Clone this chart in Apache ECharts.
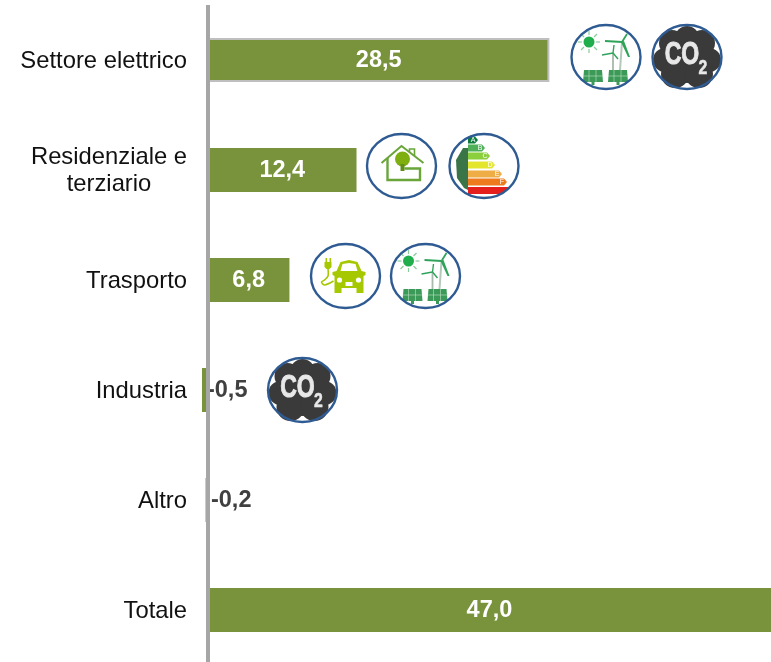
<!DOCTYPE html>
<html>
<head>
<meta charset="utf-8">
<title>Settori</title>
<style>
  html, body { margin: 0; padding: 0; background: #fff; overflow: hidden; }
  #chart { width: 771px; height: 670px; }
</style>
<script src="https://cdn.jsdelivr.net/npm/echarts@6/dist/echarts.min.js"></script>
</head>
<body>
<div id="chart"></div>
<script>
var categories = ['Settore elettrico', 'Residenziale e\nterziario', 'Trasporto', 'Industria', 'Altro', 'Totale'];
var values = [28.5, 12.4, 6.8, -0.5, -0.2, 47.0];

var GREEN = '#79933C';
var FONT = '"Liberation Sans", Arial, sans-serif';

function fmt(v) {
  return v.toFixed(1).replace('.', ',');
}

// icone: tutte disegnate attorno a (0,0), ellisse 35x32
function frame() {
  return { type: 'ellipse', shape: { cx: 0, cy: 0, rx: 34.5, ry: 32 }, style: { fill: 'none', stroke: '#2F5B93', lineWidth: 2.4 } };
}
function bg() {
  return { type: 'ellipse', shape: { cx: 0, cy: 0, rx: 34.5, ry: 32 }, style: { fill: '#fff' } };
}
function ln(points, color, width, smooth) {
  return { type: 'polyline', shape: { points: points, smooth: smooth || 0 }, style: { fill: 'none', stroke: color, lineWidth: width } };
}
function poly(points, color) {
  return { type: 'polygon', shape: { points: points }, style: { fill: color } };
}
function dot(x, y, r, color) {
  return { type: 'circle', shape: { cx: x, cy: y, r: r }, style: { fill: color } };
}
function rect(x, y, w, h, color) {
  return { type: 'rect', shape: { x: x, y: y, width: w, height: h }, style: { fill: color } };
}

function solarIcon() {
  var g = '#2FA35A';
  var c = [bg(), dot(-17, -15, 5.5, '#1FAE4B')];
  var rays = [[-28, -15, -24, -15], [-10, -15, -6, -15], [-17, -26, -17, -22], [-17, -8, -17, -4],
    [-25, -23, -22, -20], [-12, -10, -9, -7], [-9, -23, -12, -20], [-25, -7, -22, -10]];
  rays.forEach(function (r) { c.push(ln([[r[0], r[1]], [r[2], r[3]]], '#8CCB9C', 1.2)); });
  c.push(ln([[7, -4], [7, 13]], '#A8B8AC', 1.8));
  c.push(ln([[7, -4], [-4, -2]], g, 1.4), ln([[7, -4], [8, -12]], g, 1.4), ln([[7, -4], [12, 2]], g, 1.4));
  c.push(ln([[16, -15], [14, 13]], '#B5C9BA', 2));
  c.push(ln([[16, -15], [-1, -16]], g, 1.8), ln([[16, -15], [21, -23]], g, 1.8), poly([[15, -15], [18, -16], [24, 0], [22, 0]], g));
  [[-23, -3], [2, 22]].forEach(function (p) {
    c.push(poly([[p[0] + 1, 13], [p[1] - 1, 13], [p[1], 25], [p[0], 25]], '#3C9A58'));
    c.push(rect((p[0] + p[1]) / 2 - 1.5, 25, 3, 3, '#3C9A58'));
    c.push(ln([[p[0] + 6, 13], [p[0] + 6, 25]], '#BFE0C6', 0.6), ln([[p[0] + 13, 13], [p[0] + 13, 25]], '#BFE0C6', 0.6));
    c.push(ln([[p[0], 19], [p[1], 19]], '#BFE0C6', 0.6));
  });
  c.push(frame());
  return c;
}

function co2Icon() {
  var d = '#3A3A3A';
  var c = [bg()];
  [[0, 0, 26], [0, -19, 12], [-15, -14, 13], [15, -14, 13], [-22, 3, 12], [22, 3, 12], [-12, 17, 14], [12, 17, 14]].forEach(function (b) {
    c.push(dot(b[0], b[1], b[2], d));
  });
  c.push({ type: 'text', scaleX: 0.72, x: -5, y: -2, style: { text: 'CO', font: 'bold 32px ' + FONT, fill: '#E8E8E8', stroke: '#E8E8E8', lineWidth: 1, align: 'center', verticalAlign: 'middle' } });
  c.push({ type: 'text', scaleX: 0.75, x: 16, y: 11, style: { text: '2', font: 'bold 21px ' + FONT, fill: '#E8E8E8', stroke: '#E8E8E8', lineWidth: 0.6, align: 'center', verticalAlign: 'middle' } });
  c.push(frame());
  return c;
}

function houseIcon() {
  var g = '#6AA53A';
  return [
    bg(),
    ln([[-20, -3], [0, -20], [22, -3]], g, 2),
    ln([[8, -14], [8, -17], [13, -17], [13, -10]], g, 1.6),
    ln([[-14, -8], [-14, 14], [18.5, 14], [18.5, 2.5], [3, 2.5]], g, 2.4),
    dot(1, -7, 7.5, '#7FAE10'),
    rect(-1, -2, 4, 7, '#5E8F1A'),
    frame()
  ];
}

function energyIcon() {
  var c = [bg(), poly([[-21, -18], [-16, -18], [-16, 24], [-20, 22], [-27, 12], [-28, -6]], '#3A7548')];
  var rows = [
    [-26, -6, '#0B7A3B', 'A'], [-18, 1, '#4FB058', 'B'], [-10, 6, '#8CCF3C', 'C'],
    [-1, 11, '#E4E62E', 'D'], [8, 18, '#EFAE45', 'E'], [16, 23, '#EE7A1E', 'F']
  ];
  rows.forEach(function (r) {
    c.push(poly([[-16, r[0] - 3.5], [r[1] - 3, r[0] - 3.5], [r[1], r[0]], [r[1] - 3, r[0] + 3.5], [-16, r[0] + 3.5]], r[2]));
    c.push({ type: 'text', style: { text: r[3], x: r[1] - 5, y: r[0], font: '7px ' + FONT, fill: '#fff', align: 'center', verticalAlign: 'middle' } });
  });
  c.push(poly([[-16, 21], [26, 21], [23, 24], [17, 28], [-16, 28]], '#E5201C'));
  c.push(frame());
  return c;
}

function carIcon() {
  var g = '#A6C800';
  return [
    bg(),
    poly([[-9, -5], [-5, -14], [3.5, -16], [12, -14], [16, -5], [20, -4], [20, -1], [18, 0], [18, 17], [11, 17], [11, 12], [-4, 12], [-4, 17], [-11, 17], [-11, 0], [-13, -1], [-13, -4]], g),
    poly([[-5, -5], [-3, -12], [3.5, -13], [10, -12], [12, -5]], '#fff'),
    dot(-6, 4, 2.6, '#fff'),
    dot(13, 4, 2.6, '#fff'),
    rect(0, 6, 7, 4, '#fff'),
    rect(-20, -18, 1.6, 4, g),
    rect(-16, -18, 1.6, 4, g),
    poly([[-21, -14], [-14, -14], [-14, -9], [-16, -7], [-19, -7], [-21, -9]], g),
    ln([[-17.5, -7], [-17.5, 0], [-21, 4], [-24, 6], [-21, 9], [-12, 5]], g, 1.6, 0.3),
    frame()
  ];
}

// posizione delle icone accanto alle barre
var icons = [
  { x: 606, y: 57, fn: solarIcon },
  { x: 687, y: 57, fn: co2Icon },
  { x: 401.5, y: 166, fn: houseIcon },
  { x: 484, y: 166, fn: energyIcon },
  { x: 345.5, y: 276, fn: carIcon },
  { x: 425.5, y: 276, fn: solarIcon },
  { x: 302.5, y: 390, fn: co2Icon }
];

var barData = values.map(function (v, i) {
  var item = { value: v };
  if (i === 0) {
    item.itemStyle = { borderColor: '#BFBFBF', borderWidth: 2 };
  }
  if (v < 0) {
    item.label = { position: 'right', distance: v === -0.5 ? -1 : 3, color: '#404040' };
  }
  return item;
});

var chart = echarts.init(document.getElementById('chart'), null, { renderer: 'canvas' });
chart.setOption({
  animation: false,
  backgroundColor: '#fff',
  grid: { left: 196, width: 575, top: 5, height: 660, containLabel: false },
  xAxis: { type: 'value', min: -1, max: 47, show: false },
  yAxis: {
    type: 'category',
    inverse: true,
    data: categories,
    z: 3,
    axisLine: { onZero: true, lineStyle: { color: '#A6A6A6', width: 4, cap: 'butt' } },
    axisTick: { show: false },
    splitLine: { show: false },
    axisLabel: {
      margin: 9,
      padding: [2, 0, 0, 0],
      fontFamily: FONT,
      fontSize: 23.8,
      color: '#111',
      lineHeight: 27,
      formatter: function (name) {
        // solo le etichette su due righe sono centrate tra loro
        if (name.indexOf('\n') < 0) {
          return name;
        }
        return name.split('\n').map(function (s) { return '{c|' + s + '}'; }).join('\n');
      },
      rich: {
        c: { width: 156, align: 'center', fontFamily: FONT, fontSize: 23.8, color: '#111', lineHeight: 27 }
      }
    }
  },
  series: [{
    type: 'bar',
    data: barData,
    barWidth: 44,
    itemStyle: { color: GREEN },
    label: {
      show: true,
      position: 'inside',
      offset: [0, 1],
      fontFamily: FONT,
      fontSize: 23.5,
      fontWeight: 'bold',
      color: '#fff',
      formatter: function (p) { return fmt(p.value); }
    }
  }],
  graphic: icons.map(function (ic) {
    return { type: 'group', x: ic.x, y: ic.y, silent: true, children: ic.fn() };
  })
});
</script>
</body>
</html>
